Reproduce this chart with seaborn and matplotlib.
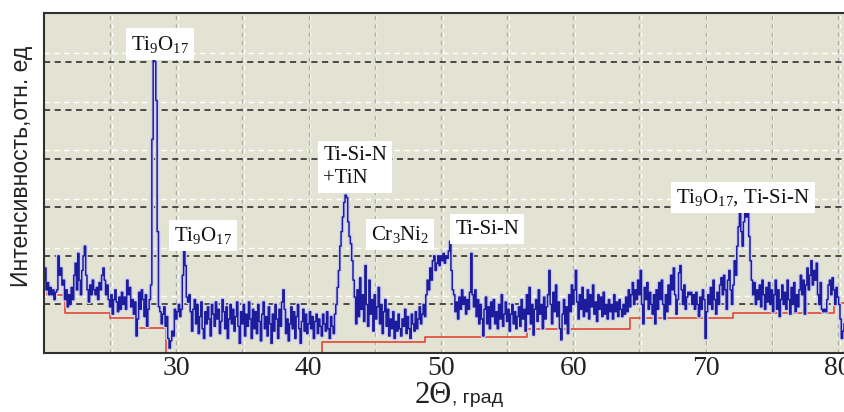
import numpy as np
import pandas as pd
import matplotlib
matplotlib.use("Agg")
import matplotlib.pyplot as plt
import seaborn as sns

# ---------------- data ----------------
angle_start, angle_step = 20.0, 0.1
intensity = (
    [1.5, 1.75, 1.3, 1.45, 1.2, 1.35, 1.2, 1.3, 1.1, 1.25] +      # 20
    [1.3, 2.0, 1.6, 1.75, 1.4, 1.5, 1.1, 1.3, 0.95, 1.2] +        # 21
    [1.0, 1.35, 1.1, 1.6, 1.85, 1.3, 2.05, 1.5, 1.2, 1.7] +       # 22
    [2.0, 2.2, 1.6, 1.3, 1.05, 1.4, 1.2, 1.5, 1.3, 1.2] +         # 23
    [1.35, 1.1, 1.45, 1.3, 1.6, 1.75, 1.5, 1.2, 1.4, 1.1] +       # 24
    [0.95, 1.2, 0.8, 1.1, 1.3, 1.05, 0.85, 1.15, 0.9, 1.25] +     # 25
    [1.0, 1.15, 0.9, 1.5, 1.2, 1.35, 0.95, 1.1, 0.8, 1.05] +      # 26
    [0.35, 0.7, 1.25, 0.9, 1.3, 1.1, 0.75, 1.2, 0.55, 0.9] +      # 27
    [1.1, 1.4, 4.4, 6.1, 6.0, 5.2, 2.5, 0.95, 0.85, 0.6] +        # 28
    [0.8, 0.95, 0.55, 0.75, 0.3, 0.1, 0.25, 0.45, 0.35, 0.9] +    # 29
    [0.7, 0.85, 1.0, 0.75, 0.9, 1.6, 2.1, 1.8, 1.15, 1.05] +      # 30
    [1.2, 0.85, 0.45, 0.9, 1.1, 0.6, 1.0, 0.4, 0.75, 1.05] +      # 31
    [0.5, 0.3, 0.85, 0.6, 0.95, 0.7, 0.35, 1.0, 0.8, 0.55] +      # 32
    [1.05, 0.7, 0.9, 0.4, 0.65, 1.1, 0.85, 0.5, 0.95, 0.3] +      # 33
    [0.7, 1.0, 0.6, 0.9, 0.45, 0.75, 1.05, 0.55, 0.2, 0.85] +     # 34
    [0.6, 1.0, 0.35, 0.8, 0.55, 1.05, 0.7, 0.3, 0.9, 0.5] +       # 35
    [0.85, 0.4, 1.0, 0.65, 0.25, 0.8, 1.05, 0.5, 0.75, 0.35] +    # 36
    [0.95, 0.6, 0.2, 0.8, 0.45, 1.0, 0.7, 0.3, 0.9, 0.55] +       # 37
    [1.05, 1.3, 0.9, 0.4, 0.7, 0.25, 0.6, 0.95, 0.5, 0.85] +      # 38
    [0.3, 0.75, 1.0, 0.5, 0.2, 0.65, 0.9, 0.45, 0.8, 0.4] +       # 39
    [0.6, 0.85, 0.5, 0.75, 0.3, 0.65, 0.8, 0.4, 0.7, 0.55] +      # 40
    [0.35, 0.8, 0.6, 0.45, 0.85, 0.5, 0.3, 0.75, 0.55, 0.4] +     # 41
    [0.8, 1.0, 1.35, 1.7, 2.2, 2.5, 2.8, 3.1, 3.25, 3.2] +        # 42
    [2.7, 2.4, 2.25, 1.9, 1.5, 1.15, 0.6, 1.3, 0.75, 1.55] +      # 43
    [0.9, 1.2, 0.65, 1.8, 1.0, 0.55, 1.5, 0.8, 1.1, 0.45] +       # 44
    [1.2, 0.7, 0.95, 1.35, 0.6, 1.0, 0.4, 0.85, 1.1, 0.55] +      # 45
    [0.9, 0.35, 0.7, 0.5, 0.85, 0.3, 0.65, 0.45, 0.8, 0.5] +      # 46
    [0.35, 0.7, 0.55, 0.9, 0.4, 0.75, 0.5, 0.3, 0.8, 0.6] +       # 47
    [0.45, 0.85, 0.5, 0.7, 0.95, 0.6, 0.8, 1.0, 0.75, 1.2] +      # 48
    [1.5, 1.3, 1.75, 1.5, 1.9, 2.0, 1.7, 1.85, 2.0, 1.8] +        # 49
    [2.0, 1.9, 2.05, 1.85, 2.0, 1.95, 2.1, 2.3, 1.7, 1.3] +       # 50
    [1.2, 0.85, 1.05, 0.7, 1.15, 0.9, 1.3, 1.0, 1.15, 0.8] +      # 51
    [1.1, 0.9, 1.25, 2.05, 1.2, 0.95, 1.3, 0.75, 1.1, 0.6] +      # 52
    [1.0, 0.7, 0.35, 0.9, 1.15, 0.6, 0.95, 0.5, 1.05, 0.75] +     # 53
    [1.1, 0.6, 0.85, 0.5, 1.0, 0.7, 1.2, 0.55, 0.8, 1.05] +       # 54
    [0.65, 0.9, 0.45, 0.8, 1.0, 0.6, 0.85, 0.5, 0.75, 0.95] +     # 55
    [0.55, 1.1, 0.7, 0.9, 0.45, 1.2, 0.8, 1.35, 0.6, 1.0] +       # 56
    [0.37, 0.9, 1.1, 0.65, 1.3, 0.8, 1.0, 0.5, 1.15, 0.7] +       # 57
    [0.95, 1.2, 1.7, 1.0, 0.6, 1.25, 0.85, 1.4, 0.75, 1.05] +     # 58
    [0.5, 0.27, 0.8, 1.1, 0.6, 0.95, 0.4, 1.2, 0.85, 1.4] +       # 59
    [1.0, 1.3, 1.7, 1.05, 0.7, 1.2, 0.9, 1.35, 0.75, 1.1] +       # 60
    [0.85, 1.3, 0.7, 1.2, 0.95, 1.4, 0.8, 1.05, 0.65, 1.2] +      # 61
    [0.9, 1.15, 0.75, 1.25, 0.8, 1.0, 0.7, 1.1, 0.85, 1.0] +      # 62
    [0.7, 1.2, 0.85, 1.05, 0.75, 1.1, 0.9, 0.75, 1.0, 0.8] +      # 63
    [1.15, 0.85, 1.3, 0.95, 1.2, 1.45, 1.0, 1.3, 1.1, 1.5] +      # 64
    [1.2, 1.7, 1.0, 0.6, 1.35, 1.1, 1.45, 0.9, 1.25, 1.0] +       # 65
    [0.8, 1.2, 0.6, 1.3, 0.9, 1.45, 1.1, 1.5, 1.0, 0.7] +         # 66
    [1.2, 0.85, 1.4, 1.0, 1.6, 1.3, 1.75, 1.2, 0.8, 1.1] +        # 67
    [1.65, 1.8, 1.3, 1.0, 1.4, 0.9, 1.15, 1.25, 1.2, 1.25] +      # 68
    [1.0, 1.2, 0.9, 1.25, 1.0, 0.75, 1.15, 0.9, 1.3, 1.1] +       # 69
    [0.3, 0.85, 1.2, 1.0, 1.35, 0.9, 1.5, 1.1, 0.8, 1.25] +       # 70
    [1.0, 1.4, 1.55, 1.2, 1.6, 1.3, 0.9, 1.5, 1.7, 1.3] +         # 71
    [1.0, 1.4, 1.9, 1.6, 2.2, 2.6, 2.9, 2.5, 2.2, 2.7] +          # 72
    [2.95, 2.8, 2.9, 2.4, 1.9, 1.5, 1.2, 1.45, 1.0, 1.3] +        # 73
    [1.1, 1.4, 0.95, 1.5, 1.2, 0.9, 1.35, 1.05, 1.45, 1.0] +      # 74
    [1.3, 0.85, 1.2, 1.5, 0.9, 1.3, 0.75, 1.1, 1.4, 1.0] +        # 75
    [1.25, 0.9, 1.5, 1.1, 0.8, 1.35, 1.0, 1.45, 0.85, 1.2] +      # 76
    [0.95, 1.3, 1.6, 1.2, 1.5, 0.8, 1.4, 1.75, 1.3, 1.6] +        # 77
    [1.9, 1.4, 1.7, 1.5, 1.85, 1.2, 1.0, 1.45, 0.9, 0.85] +       # 78
    [0.9, 0.85, 1.1, 1.4, 1.5, 1.2, 1.55, 1.3, 1.0, 1.35] +       # 79
    [1.15, 1.0, 0.7, 0.3, 0.45, 0.6]                              # 80
)
angle = np.round(angle_start + angle_step * np.arange(len(intensity)), 2)

background_x = [20.0, 20.25, 21.6, 25.0, 27.0, 29.2, 41.0, 48.8, 56.5, 64.3, 72.1, 79.7, 80.6]
background_y = [1.75, 1.2, 0.83, 0.72, 0.52, 0.0, 0.23, 0.33, 0.5, 0.72, 0.83, 1.03, 1.03]

x_ticks = [30, 40, 50, 60, 70, 80]

labels = [r"Ti$_9$O$_{17}$", r"Ti$_9$O$_{17}$", "Ti-Si-N\n+TiN", r"Cr$_3$Ni$_2$", "Ti-Si-N",
          r"Ti$_9$O$_{17}$, Ti-Si-N"]
label_x = [28.75, 32.0, 41.1, 46.9, 53.5, 72.8]
label_y = [6.36, 2.42, 3.83, 2.44, 2.55, 3.2]
label_ha = ["center", "center", "left", "center", "center", "center"]

df = pd.DataFrame({"angle": angle, "intensity": intensity})
bg = pd.DataFrame({"angle": background_x, "level": background_y})

# ---------------- style ----------------
sns.set_style("white")
plt.rcParams["mathtext.fontset"] = "custom"
plt.rcParams["mathtext.rm"] = "Liberation Serif"
plt.rcParams["mathtext.it"] = "Liberation Serif"
plt.rcParams["font.family"] = ["Liberation Serif", "DejaVu Serif"]

W, H = 845, 412
fig = plt.figure(figsize=(W / 100, H / 100), dpi=100)
ax = fig.add_axes([44 / W, 59 / H, 801 / W, 340 / H])
ax.set_facecolor("#e3e3d3")

# grid
for xv in np.arange(25, 81, 5):
    ax.axvline(xv + 0.12, color="white", lw=1.0, ls=(0, (3, 3)), zorder=0.5)
    ax.axvline(xv, color="#b0b0a2", lw=1.0, ls=(0, (3, 3)), zorder=0.6)
for yv in range(1, 7):
    ax.axhline(yv + 0.17, color="white", lw=1.0, ls=(0, (4, 3)), zorder=0.5)
    ax.axhline(yv, color="#202020", lw=1.1, ls=(0, (4, 3)), zorder=0.7)

# background (red step line)
sns.lineplot(data=bg, x="angle", y="level", drawstyle="steps-post", color="#e04838",
             lw=1.2, ax=ax, zorder=1.5, estimator=None, sort=False)
# halo + main pattern
sns.lineplot(data=df, x="angle", y="intensity", drawstyle="steps-mid", color="#cfcff0",
             lw=3.0, ax=ax, zorder=1.8, estimator=None)
sns.lineplot(data=df, x="angle", y="intensity", drawstyle="steps-mid", color="#1c1c9c",
             lw=1.1, ax=ax, zorder=2, estimator=None)

ax.set_xlim(20, 80.53)
ax.set_ylim(0, 7)
ax.set_xticks(x_ticks)
ax.set_xticklabels([str(t) for t in x_ticks], fontsize=20, color="#222222")
ax.tick_params(axis="x", length=0, pad=2)
ax.set_yticks(np.arange(0, 8, 1))
ax.set_yticks(np.arange(0, 7.01, 0.25), minor=True)
ax.set_yticklabels([])
ax.tick_params(axis="y", which="both", length=3, width=1, color="#333333", direction="out")
ax.set_xlabel("")
ax.set_ylabel("")
for s in ["left", "bottom", "top"]:
    ax.spines[s].set_color("#303030")
    ax.spines[s].set_linewidth(1.5)
ax.spines["right"].set_visible(False)

# annotations
for t, xv, yv, ha in zip(labels, label_x, label_y, label_ha):
    ax.text(xv, yv, t, fontsize=15, ha=ha, va="center", color="#111111",
            linespacing=1.25, multialignment="left",
            bbox=dict(boxstyle="square,pad=0.25", facecolor="white", edgecolor="none"),
            zorder=5)

# axis labels
fig.text(452 / W, 1 - 403 / H, "2Θ", fontsize=22, ha="right", va="baseline",
         family=["Liberation Serif", "DejaVu Serif"], color="#222222")
fig.text(452 / W, 1 - 403 / H, ", град", fontsize=14, ha="left", va="baseline",
         family=["Liberation Sans", "DejaVu Sans"], color="#222222")
fig.text(22 / W, 1 - 166 / H, "Интенсивность,отн. ед", fontsize=16.5, rotation=90,
         ha="center", va="center", family=["Liberation Sans", "DejaVu Sans"], color="#222222")

fig.savefig("out.png", dpi=100, facecolor="white")
